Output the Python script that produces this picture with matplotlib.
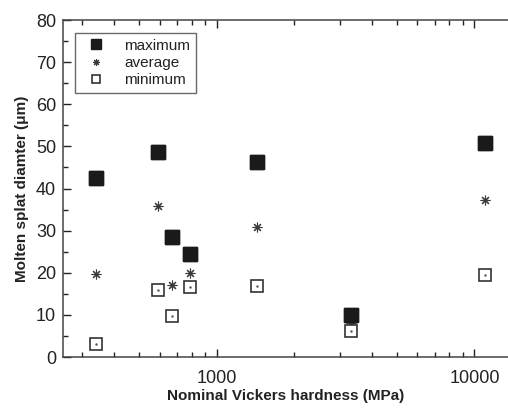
import matplotlib
matplotlib.use("Agg")
import matplotlib.pyplot as plt
from matplotlib.ticker import LogLocator, NullFormatter, FixedLocator

plt.rcParams['font.family'] = ['Liberation Sans', 'DejaVu Sans']

# hardness of each material (MPa) and splat diameters (um)
hardness = [340, 590, 670, 786, 1430, 3330, 11000]
d_max = [42.5, 48.6, 28.4, 24.4, 46.4, 10.0, 50.9]
d_avg = [19.7, 35.8, 17.2, 20.0, 30.8, 8.1, 37.4]
d_min = [3.0, 15.8, 9.8, 16.7, 16.8, 6.3, 19.5]

ink = "#222222"

fig = plt.figure(figsize=(5.08, 4.09), dpi=100)
ax = fig.add_axes([0.124, 0.127, 0.876, 0.824])

ax.plot(hardness, d_max, linestyle="none", marker="s", markersize=9.5,
        color="#1a1a1a", label="maximum")
ax.plot(hardness, d_avg, linestyle="none", marker=(8, 2, 0), markersize=7,
        markeredgewidth=0.8, color="#3a3a3a", label="average")
ax.plot(hardness, d_min, linestyle="none", marker="s", markersize=8.5,
        markerfacecolor="white", markeredgecolor="#333333", markeredgewidth=1.2,
        label="minimum")
# dot in the middle of the open squares
ax.plot(hardness, d_min, linestyle="none", marker=".", markersize=1.5,
        color="#555555")
ax.plot(hardness, d_max, linestyle="none", marker="s", markersize=9.5,
        color="#1a1a1a")

ax.set_xscale("log")
ax.set_xlim(253, 13500)
ax.set_ylim(0, 80)

ax.xaxis.set_major_locator(FixedLocator([1000, 10000]))
ax.set_xticklabels(["1000", "10000"])
ax.xaxis.set_minor_locator(LogLocator(base=10, subs=range(2, 10)))
ax.xaxis.set_minor_formatter(NullFormatter())
ax.set_yticks(range(0, 81, 10))
ax.set_yticks(range(5, 80, 10), minor=True)

ax.tick_params(which="both", direction="in", top=True, right=False,
               colors=ink, labelsize=13, width=1)
ax.tick_params(which="major", length=6)
ax.tick_params(which="minor", length=3.5)
ax.tick_params(axis="x", pad=9)
ax.tick_params(axis="y", pad=5)

ax.spines["right"].set_visible(False)
for s in ["left", "bottom", "top"]:
    ax.spines[s].set_color("#444444")
    ax.spines[s].set_linewidth(1.1)

ax.set_xlabel("Nominal Vickers hardness (MPa)", fontsize=11,
              fontweight="bold", color=ink, labelpad=2)
ax.set_ylabel("Molten splat diamter (\u03bcm)", fontsize=11,
              fontweight="bold", color=ink, labelpad=5)

leg = ax.legend(loc="upper left", bbox_to_anchor=(0.01, 0.985), fontsize=11,
                frameon=True, fancybox=False, edgecolor="#444444",
                handletextpad=0.8, borderpad=0.4, labelspacing=0.2,
                markerscale=0.7)
leg.get_frame().set_linewidth(1.0)
for t in leg.get_texts():
    t.set_color(ink)

fig.savefig("out.png", dpi=100)
